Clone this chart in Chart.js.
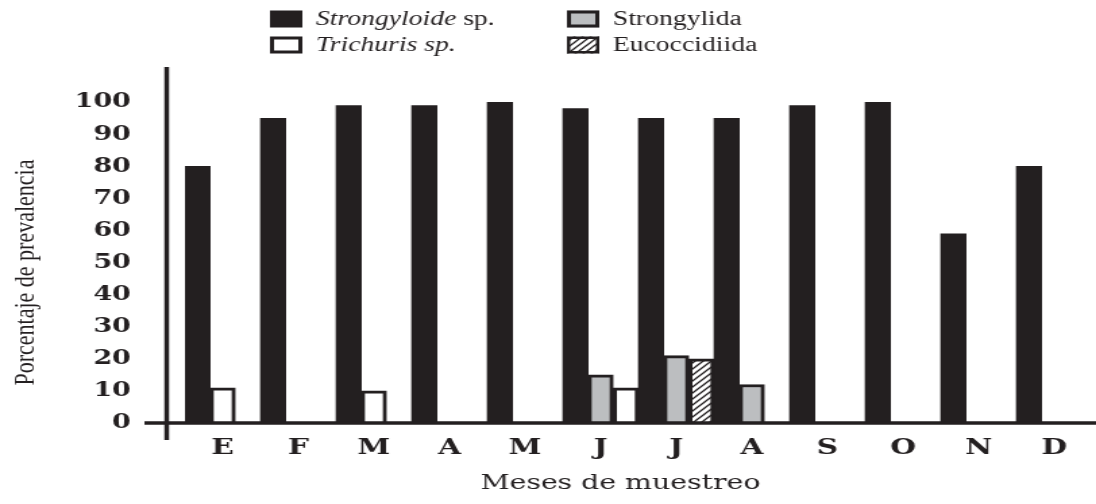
<!DOCTYPE html>
<html>
<head>
<meta charset="utf-8">
<script src="https://cdn.jsdelivr.net/npm/chart.js@4.4.0/dist/chart.umd.min.js"></script>
<style>
  html, body { margin: 0; padding: 0; background: #fff; overflow: hidden; }
  /* the printed figure is stretched sideways, so draw it narrow and widen it */
  #wrap { width: 812px; height: 504px; transform: scaleX(1.3498); transform-origin: 0 0; }
</style>
</head>
<body>
<div id="wrap"><canvas id="prevalenceChart"></canvas></div>
<script>
var months = ['E', 'F', 'M', 'A', 'M', 'J', 'J', 'A', 'S', 'O', 'N', 'D'];
var strongyloide = [80, 95, 99, 99, 100, 98, 95, 95, 99, 100, 59, 80];
var strongylida = [null, null, null, null, null, 15, 21, 12, null, null, null, null];
var trichuris = [11, null, 10, null, null, 11, null, null, null, null, null, null];
var eucoccidiida = [null, null, null, null, null, null, 20, null, null, null, null, null];
var yTicks = [0, 10, 20, 30, 40, 50, 60, 70, 80, 90, 100];

var ink = '#231f20';
var grey = '#bcbec0';

/**
 * Diagonal hatch used for Eucoccidiida
 */
function makeHatch() {
    var c = document.createElement('canvas');
    c.width = 6;
    c.height = 6;
    var g = c.getContext('2d');
    g.fillStyle = '#ffffff';
    g.fillRect(0, 0, 6, 6);
    g.strokeStyle = ink;
    g.lineWidth = 1.3;
    g.beginPath();
    g.moveTo(-1, 7); g.lineTo(7, -1);
    g.moveTo(-4, 4); g.lineTo(4, -4);
    g.moveTo(2, 10); g.lineTo(10, 2);
    g.stroke();
    return g.createPattern(c, 'repeat');
}
var hatch = makeHatch();

// the small bars sit next to the black one, in the order they appear
var minor = [
    { data: strongylida, fill: grey },
    { data: trichuris, fill: '#ffffff' },
    { data: eucoccidiida, fill: hatch }
];
function slot(n) {
    var values = [], fills = [];
    months.forEach(function(m, i) {
        var present = minor.filter(function(s) { return s.data[i] != null; });
        var s = present[n];
        values.push(s ? s.data[i] : null);
        fills.push(s ? s.fill : 'rgba(0,0,0,0)');
    });
    return { data: values, backgroundColor: fills, borderColor: ink, borderWidth: 3 };
}

var legendItems = [
    { parts: [['Strongyloide', true], [' sp.', false]], fill: ink, border: 0, col: 0, row: 0 },
    { parts: [['Strongylida', false]], fill: grey, border: 3, col: 1, row: 0 },
    { parts: [['Trichuris sp.', true]], fill: '#ffffff', border: 3, col: 0, row: 1 },
    { parts: [['Eucoccidiida', false]], fill: hatch, border: 2.5, col: 1, row: 1 }
];

var legendPlugin = {
    id: 'legendPlugin',
    afterDraw: function(chart) {
        var ctx = chart.ctx;
        var colX = [200, 420];
        var rowY = [19, 45];
        ctx.save();
        legendItems.forEach(function(item) {
            var x = colX[item.col], y = rowY[item.row];
            ctx.fillStyle = item.fill;
            ctx.fillRect(x, y - 8.5, 24, 17);
            if (item.border) {
                ctx.strokeStyle = ink;
                ctx.lineWidth = item.border;
                ctx.strokeRect(x + item.border / 2, y - 8.5 + item.border / 2, 24 - item.border, 17 - item.border);
            }
            var tx = x + 34;
            ctx.fillStyle = ink;
            ctx.textBaseline = 'middle';
            ctx.textAlign = 'left';
            item.parts.forEach(function(p) {
                ctx.font = (p[1] ? 'italic ' : '') + '20.5px "Liberation Serif"';
                ctx.fillText(p[0], tx, y + 1);
                tx += ctx.measureText(p[0]).width;
            });
        });
        ctx.restore();
    }
};

var axisLines = {
    id: 'axisLines',
    afterDatasetsDraw: function(chart) {
        var a = chart.chartArea, ctx = chart.ctx;
        ctx.save();
        ctx.strokeStyle = ink;
        ctx.lineWidth = 3.5;
        ctx.beginPath();
        ctx.moveTo(a.left - 30, a.bottom);
        ctx.lineTo(chart.width, a.bottom);
        ctx.stroke();
        ctx.beginPath();
        ctx.moveTo(a.left - 13.5, a.top);
        ctx.lineTo(a.left - 13.5, a.bottom + 17);
        ctx.stroke();
        ctx.restore();
    }
};

var yTickFont = { family: 'DejaVu Serif', weight: 'bold', size: 20, lineHeight: 1.2 };
var xTickFont = { family: 'DejaVu Serif', weight: 'bold', size: 22, lineHeight: 1.2 };

var prevalenceChart = new Chart(document.getElementById('prevalenceChart').getContext('2d'), {
    type: 'bar',
    data: {
        labels: months,
        datasets: [
            { label: 'Strongyloide sp.', data: strongyloide, backgroundColor: ink, borderWidth: 0 },
            slot(0),
            slot(1)
        ]
    },
    options: {
        responsive: true,
        maintainAspectRatio: false,
        animation: false,
        layout: { padding: { top: 67, right: 3, left: 0, bottom: 0 } },
        datasets: { bar: { categoryPercentage: 1, barPercentage: 1 } },
        plugins: { legend: { display: false }, tooltip: { enabled: false } },
        scales: {
            x: {
                grid: { display: false, drawTicks: false },
                border: { display: false },
                ticks: { color: ink, font: xTickFont, padding: 12, maxRotation: 0, autoSkip: false },
                title: {
                    display: true, text: 'Meses de muestreo    ', color: ink,
                    font: { family: 'DejaVu Serif', size: 21, lineHeight: 1.2 },
                    padding: { top: 0, bottom: 8 }
                },
                afterFit: function(s) { s.height = 81; }
            },
            y: {
                min: 0,
                max: 111,
                grid: { display: false, drawTicks: false },
                border: { display: false },
                afterBuildTicks: function(s) {
                    s.ticks = yTicks.map(function(v) { return { value: v }; });
                },
                ticks: { color: ink, font: yTickFont, padding: 40 },
                title: {
                    display: true, text: 'Porcentaje de prevalencia          ', color: ink,
                    font: { family: 'Liberation Serif', size: 22, lineHeight: 1.2 },
                    padding: { top: 6, bottom: 0 }
                },
                afterFit: function(s) { s.width = 137; }
            }
        }
    },
    plugins: [axisLines, legendPlugin]
});
</script>
</body>
</html>
